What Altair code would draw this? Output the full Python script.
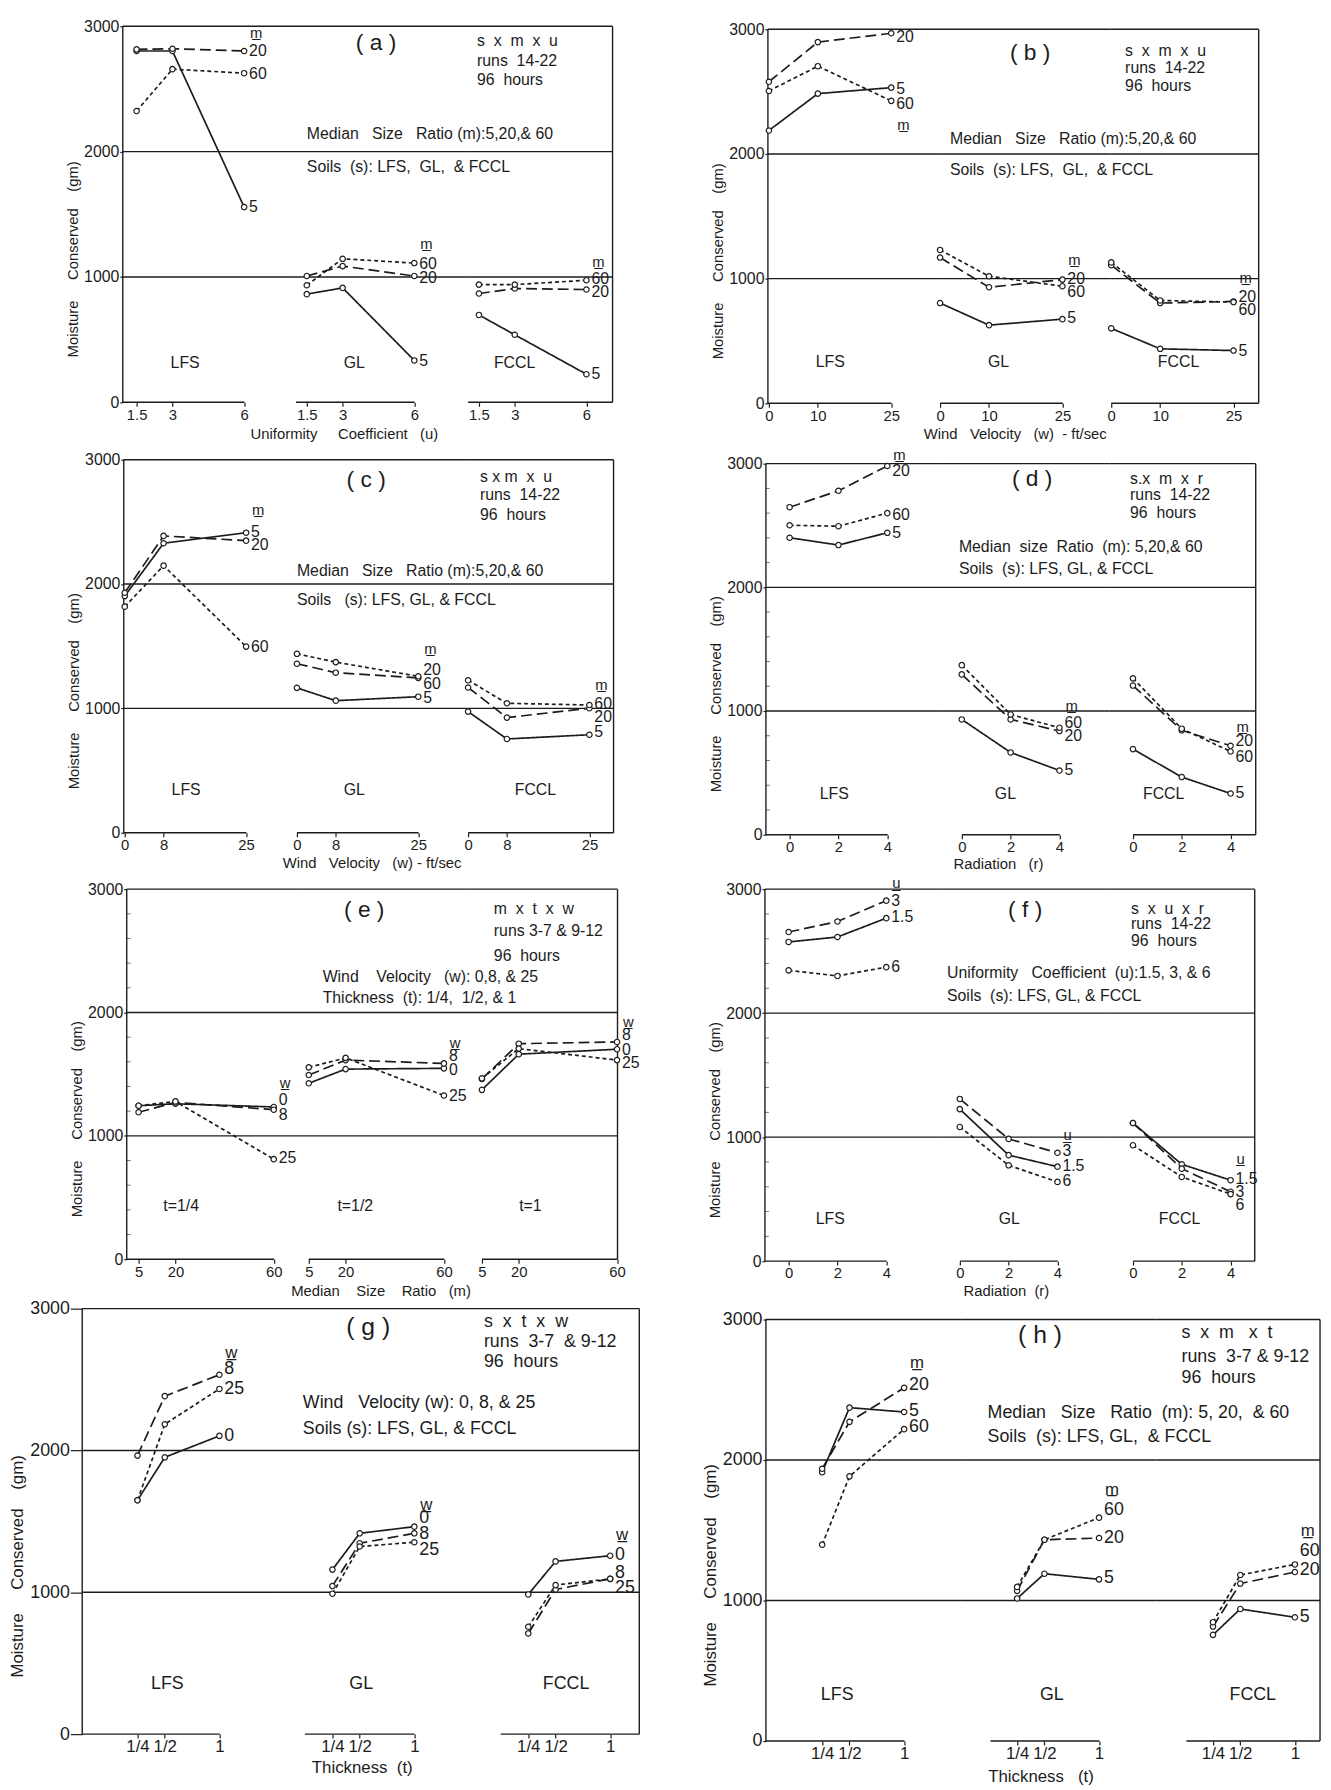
import altair as alt
import pandas as pd

FONT = "Liberation Sans"
INK = "#1c1c1c"
NB = "\u00a0"
UL = "\u0332"

# ---------------- x categories / tick labels ----------------
SOILS = ["LFS", "GL", "FCCL"]
THICK_GROUPS = ["t=1/4", "t=1/2", "t=1"]
U_VALS = [1.5, 3, 6]
U_LABELS = ["1.5", "3", "6"]
W10_VALS = [0, 10, 25]
W10_LABELS = ["0", "10", "25"]
W8_VALS = [0, 8, 25]
W8_LABELS = ["0", "8", "25"]
R_VALS = [0, 2, 4]
R_LABELS = ["0", "2", "4"]
M_VALS = [5, 20, 60]
M_LABELS = ["5", "20", "60"]
T_VALS = [0.25, 0.5, 1.0]
T_LABELS = ["1/4", "1/2", "1"]
Y_MAJOR = [0, 1000, 2000, 3000]
MINOR_Y = [200, 400, 600, 800, 1200, 1400, 1600, 1800, 2200, 2400, 2600, 2800]

# ---------------- series values (gm) ----------------
A_LFS = {"5": [2803, 2803, 1558], "20": [2816, 2821, 2803], "60": [2324, 2658, 2626]}
A_GL = {"5": [863, 913, 334], "20": [1008, 1087, 1008], "60": [934, 1145, 1111]}
A_FCCL = {"5": [697, 539, 224], "20": [868, 908, 900], "60": [939, 939, 974]}

B_LFS = {"5": [2188, 2484, 2532], "20": [2579, 2897, 2968], "60": [2505, 2704, 2426]}
B_GL = {"5": [804, 627, 675], "20": [1169, 931, 992], "60": [1230, 1019, 939]}
B_FCCL = {"5": [601, 437, 423], "20": [1108, 804, 817], "60": [1130, 825, 812]}

C_LFS = {"5": [1903, 2328, 2413], "20": [1930, 2387, 2349], "60": [1818, 2148, 1497]}
C_GL = {"5": [1165, 1062, 1094], "20": [1359, 1287, 1245], "60": [1439, 1372, 1258]}
C_FCCL = {"5": [974, 754, 788], "20": [1168, 926, 1001], "60": [1226, 1041, 1027]}

D_LFS = {"5": [2401, 2342, 2441], "20": [2648, 2781, 2981], "60": [2502, 2494, 2600]}
D_GL = {"5": [932, 665, 519], "20": [1296, 932, 838], "60": [1371, 972, 865]}
D_FCCL = {"5": [692, 466, 333], "20": [1206, 844, 719], "60": [1264, 857, 673]}

E_T14 = {"0": [1244, 1260, 1234], "8": [1191, 1271, 1212], "25": [1244, 1279, 811]}
E_T12 = {"0": [1426, 1541, 1547], "8": [1493, 1614, 1587], "25": [1555, 1632, 1327]}
E_T1 = {"0": [1373, 1662, 1702], "8": [1461, 1747, 1761], "25": [1466, 1707, 1614]}

F_LFS = {"1.5": [2574, 2614, 2766], "3": [2654, 2739, 2907], "6": [2345, 2300, 2371]}
F_GL = {"1.5": [1226, 855, 762], "3": [1308, 986, 874], "6": [1082, 773, 639]}
F_FCCL = {"1.5": [1114, 781, 653], "3": [1114, 746, 560], "6": [935, 679, 541]}

G_LFS = {"0": [1649, 1952, 2103], "8": [1964, 2383, 2534], "25": [1649, 2185, 2434]}
G_GL = {"0": [1160, 1416, 1463], "8": [1044, 1346, 1416], "25": [990, 1323, 1353]}
G_FCCL = {"0": [985, 1218, 1258], "8": [710, 1020, 1095], "25": [757, 1051, 1095]}

H_LFS = {"5": [1914, 2373, 2342], "20": [1938, 2272, 2514], "60": [1398, 1884, 2220]}
H_GL = {"5": [1015, 1191, 1151], "20": [1069, 1433, 1445], "60": [1097, 1433, 1590]}
H_FCCL = {"5": [756, 940, 881], "20": [815, 1121, 1203], "60": [846, 1182, 1257]}

# ---------------- end-label placement (gm) ----------------
A_LAB = [{"hdr": 2947, "20": 2803, "60": 2618, "5": 1558},
         {"hdr": 1263, "60": 1105, "20": 992, "5": 329},
         {"hdr": 1118, "60": 987, "20": 876, "5": 224}]
B_LAB = [{"20": 2934, "5": 2524, "60": 2399, "hdr": 2235},
         {"hdr": 1151, "20": 997, "60": 892, "5": 680},
         {"hdr": 1003, "20": 852, "60": 746, "5": 423}]
C_LAB = [{"hdr": 2594, "5": 2421, "20": 2315, "60": 1497},
         {"hdr": 1479, "20": 1306, "60": 1192, "5": 1086},
         {"hdr": 1187, "60": 1033, "20": 934, "5": 810}]
D_LAB = [{"hdr": 3069, "20": 2941, "60": 2587, "5": 2435},
         {"hdr": 1038, "60": 905, "20": 799, "5": 519},
         {"hdr": 870, "20": 759, "60": 631, "5": 333}]
E_LAB = [{"hdr": 1426, "0": 1292, "8": 1172, "25": 816},
         {"hdr": 1753, "8": 1648, "0": 1533, "25": 1319},
         {"hdr": 1921, "8": 1814, "0": 1694, "25": 1592}]
F_LAB = [{"hdr": 3045, "3": 2907, "1.5": 2774, "6": 2371},
         {"hdr": 1013, "3": 887, "1.5": 767, "6": 647},
         {"hdr": 826, "1.5": 666, "3": 560, "6": 453}]
G_LAB = [{"hdr": 2686, "8": 2574, "25": 2430, "0": 2103},
         {"hdr": 1614, "0": 1521, "8": 1409, "25": 1300},
         {"hdr": 1405, "0": 1265, "8": 1137, "25": 1032}]
H_LAB = [{"hdr": 2690, "20": 2532, "5": 2349, "60": 2236},
         {"hdr": 1790, "60": 1644, "20": 1445, "5": 1163},
         {"hdr": 1496, "60": 1351, "20": 1214, "5": 886}]

YTITLE = "Moisture" + NB * 5 + "Conserved" + NB * 4 + "(gm)"


def sp(s):
    return s.replace("  ", NB + NB)


PANELS = [
    dict(key="a", x=118, top=15, H=380, widths=[172, 174, 149], pad=14, span=109, bl=3,
         xv=U_VALS, xl=U_LABELS, groups=SOILS, data=[A_LFS, A_GL, A_FCCL], lab=A_LAB,
         series=["5", "20", "60"], hdr="m", minor=False, ytick=3, fs=15,
         title=("(" + NB + "a" + NB + ")", 256, 17),
         info=(358, [15, 35, 54], ["s  x  m  x  u", "runs  14-22", "96  hours"]),
         desc=(186, [109, 142], ["Median   Size   Ratio (m):5,20,& 60", "Soils  (s): LFS,  GL,  & FCCL"]),
         gpos=[(63, 340), (234, 340), (396, 340)],
         xtitle=("Uniformity     Coefficient   (u)", 224, 412)),
    dict(key="b", x=770, top=18, H=378, widths=[173, 173, 150], pad=1, span=124, bl=1,
         xv=W10_VALS, xl=W10_LABELS, groups=SOILS, data=[B_LFS, B_GL, B_FCCL], lab=B_LAB,
         series=["5", "20", "60"], hdr="m", minor=False, ytick=3, fs=15,
         title=("(" + NB + "b" + NB + ")", 265, 24),
         info=(361, [22, 39, 57], ["s  x  m  x  u", "runs  14-22", "96  hours"]),
         desc=(184, [111, 142], ["Median   Size   Ratio (m):5,20,& 60", "Soils  (s): LFS,  GL,  & FCCL"]),
         gpos=[(63, 336), (233, 336), (415, 336)],
         xtitle=("Wind   Velocity   (w)  - ft/sec", 250, 409)),
    dict(key="c", x=119, top=453, H=377, widths=[174, 173, 148], pad=1, span=123, bl=1,
         xv=W8_VALS, xl=W8_LABELS, groups=SOILS, data=[C_LFS, C_GL, C_FCCL], lab=C_LAB,
         series=["5", "20", "60"], hdr="m", minor=False, ytick=3, fs=15,
         title=("(" + NB + "c" + NB + ")", 245, 21),
         info=(360, [18, 36, 56], ["s x m  x  u", "runs  14-22", "96  hours"]),
         desc=(175, [113, 142], ["Median   Size   Ratio (m):5,20,& 60", "Soils   (s): LFS, GL, & FCCL"]),
         gpos=[(63, 334), (233, 334), (416, 334)],
         xtitle=("Wind   Velocity   (w) - ft/sec", 251, 408)),
    dict(key="d", x=768, top=457, H=375, widths=[174, 173, 148], pad=24, span=99, bl=24,
         xv=R_VALS, xl=R_LABELS, groups=SOILS, data=[D_LFS, D_GL, D_FCCL], lab=D_LAB,
         series=["5", "20", "60"], hdr="m", minor=True, ytick=3, fs=15,
         title=("(" + NB + "d" + NB + ")", 269, 16),
         info=(368, [16, 32, 50], ["s.x  m  x  r", "runs  14-22", "96  hours"]),
         desc=(195, [84, 107], ["Median  size  Ratio  (m): 5,20,& 60", "Soils  (s): LFS, GL, & FCCL"]),
         gpos=[(69, 334), (242, 334), (402, 334)],
         xtitle=("Radiation   (r)", 235, 405)),
    dict(key="e", x=122, top=887, H=374, widths=[172, 175, 149], pad=12, span=137, bl=12,
         xv=M_VALS, xl=M_LABELS, groups=THICK_GROUPS, data=[E_T14, E_T12, E_T1], lab=E_LAB,
         series=["0", "8", "25"], hdr="w", minor=True, ytick=3, fs=15,
         title=("(" + NB + "e" + NB + ")", 240, 21),
         info=(371, [20, 42, 68], ["m  x  t  x  w", "runs 3-7 & 9-12", "96  hours"]),
         desc=(198, [89, 110], ["Wind    Velocity   (w): 0,8, & 25", "Thickness  (t): 1/4,  1/2, & 1"]),
         gpos=[(55, 320), (231, 320), (408, 320)],
         xtitle=("Median    Size    Ratio   (m)", 257, 406)),
    dict(key="f", x=767, top=887, H=376, widths=[173, 175, 147], pad=24, span=99, bl=24,
         xv=R_VALS, xl=R_LABELS, groups=SOILS, data=[F_LFS, F_GL, F_FCCL], lab=F_LAB,
         series=["1.5", "3", "6"], hdr="u", minor=True, ytick=3, fs=15,
         title=("(" + NB + "f" + NB + ")", 263, 21),
         info=(370, [20, 35, 52], ["s  x  u  x  r", "runs  14-22", "96  hours"]),
         desc=(184, [85, 108], ["Uniformity   Coefficient  (u):1.5, 3, & 6", "Soils  (s): LFS, GL, & FCCL"]),
         gpos=[(66, 333), (247, 333), (419, 333)],
         xtitle=("Radiation  (r)", 244, 406)),
    dict(key="g", x=77, top=1308, H=430, widths=[197, 198, 168], pad=56, span=83, bl=28,
         xv=T_VALS, xl=T_LABELS, groups=SOILS, data=[G_LFS, G_GL, G_FCCL], lab=G_LAB,
         series=["0", "8", "25"], hdr="w", minor=False, ytick=12, fs=17,
         title=("(" + NB + "g" + NB + ")", 289, 19),
         info=(406, [14, 34, 54], ["s  x  t  x  w", "runs  3-7  & 9-12", "96  hours"]),
         desc=(223, [95, 122], ["Wind   Velocity (w): 0, 8, & 25", "Soils (s): LFS, GL, & FCCL"]),
         gpos=[(86, 379), (282, 379), (489, 379)],
         xtitle=("Thickness  (t)", 283, 464)),
    dict(key="h", x=768, top=1319, H=426, widths=[197, 198, 165], pad=57, span=83, bl=30,
         xv=T_VALS, xl=T_LABELS, groups=SOILS, data=[H_LFS, H_GL, H_FCCL], lab=H_LAB,
         series=["5", "20", "60"], hdr="m", minor=False, ytick=3, fs=17,
         title=("(" + NB + "h" + NB + ")", 277, 16),
         info=(420, [14, 38, 59], ["s  x  m   x  t", "runs  3-7 & 9-12", "96  hours"]),
         desc=(224, [94, 119], ["Median   Size   Ratio  (m): 5, 20,  & 60", "Soils  (s): LFS, GL,  & FCCL"]),
         gpos=[(72, 380), (289, 380), (492, 380)],
         xtitle=("Thickness   (t)", 278, 462)),
]

STYLES = ["solid", "long", "short"]
ONE = pd.DataFrame({"k": [0]})
ROW_TOPS = [8, 440, 871, 1301]
PAGE_X = 8


def label_expr(vals, labels):
    parts = []
    for v, l in zip(vals, labels):
        parts.append("datum.value == %s ? '%s'" % (repr(float(v)), l))
    return " : ".join(parts) + " : ''"


def text_layer(txt, px, py, size, align="left"):
    return alt.Chart(ONE).mark_text(
        text=txt, align=align, baseline="middle", font=FONT, fontSize=size, color=INK
    ).encode(x=alt.value(px), y=alt.value(py))


def rule_px(x, x2, y, y2):
    return alt.Chart(ONE).mark_rule(color=INK, strokeWidth=1.4).encode(
        x=alt.value(x), x2=alt.value(x2), y=alt.value(y), y2=alt.value(y2))


def sub_chart(p, gi, off):
    w = p["widths"][gi]
    H = p["H"]
    xv = p["xv"]
    lo, hi = xv[0], xv[-1]
    s = p["span"] / (hi - lo)
    dom = [lo - p["pad"] / s, lo + (w - p["pad"] + 0.5) / s]
    ymax = 3000.0 * (H + off) / H
    X = alt.X("x:Q", scale=alt.Scale(domain=dom, nice=False, zero=False),
              axis=alt.Axis(values=xv, labelExpr=label_expr(xv, p["xl"]), domain=False,
                            ticks=True, tickSize=4, tickWidth=1.2, tickColor=INK,
                            labelFont=FONT, labelFontSize=p["fs"], labelColor=INK,
                            labelPadding=1, grid=False, title=None, labelOverlap=False,
                            labelFlush=False))
    if gi == 0:
        yaxis = alt.Axis(values=Y_MAJOR, format="d", title=YTITLE, titleFont=FONT,
                         titleFontSize=p["fs"], titleFontWeight="normal", titleColor=INK,
                         titlePadding=3, titleY=off + H / 2 + 45,
                         labelFont=FONT, labelFontSize=p["fs"] + 1, labelColor=INK, labelPadding=1,
                         tickSize=p["ytick"], tickColor=INK, tickWidth=1.2, domain=False,
                         grid=False, labelFlush=False, labelOverlap=False)
    else:
        yaxis = None
    Y = alt.Y("y:Q", scale=alt.Scale(domain=[0, ymax], nice=False, zero=False), axis=yaxis)

    series_data = p["data"][gi]
    rows = []
    for si, name in enumerate(p["series"]):
        for xval, yval in zip(xv, series_data[name]):
            rows.append({"series": name, "style": STYLES[si], "x": xval, "y": yval})
    df = pd.DataFrame(rows)

    labs = p["lab"][gi]
    lab_df = pd.DataFrame([{"x": xv[-1], "y": labs[name], "text": name} for name in p["series"]])
    hdr_df = pd.DataFrame([{"x": xv[-1], "y": labs["hdr"], "text": p["hdr"] + UL}])

    layers = []
    grid_df = pd.DataFrame({"y": [1000, 2000, 3000]})
    layers.append(alt.Chart(grid_df).mark_rule(color=INK, strokeWidth=1.4).encode(
        y=Y, x=alt.value(0), x2=alt.value(w)))
    if gi == 0:
        layers.append(rule_px(0, 0, off, off + H))
        if p["minor"]:
            layers.append(alt.Chart(pd.DataFrame({"y": MINOR_Y})).mark_rule(
                color=INK, strokeWidth=1, opacity=0.6).encode(y=Y, x=alt.value(0), x2=alt.value(4)))
    b0 = 0 if gi == 0 else p["bl"]
    b1 = w if gi == 2 else p["pad"] + p["span"]
    layers.append(rule_px(b0, b1, off + H, off + H))
    if gi == 2:
        layers.append(rule_px(w, w, off, off + H))

    layers.append(alt.Chart(df).mark_line(color=INK, strokeWidth=1.7).encode(
        x=X, y=Y, detail="series:N",
        strokeDash=alt.StrokeDash("style:N", scale=alt.Scale(
            domain=STYLES, range=[[1, 0], [11, 5], [4, 3]]), legend=None)))
    layers.append(alt.Chart(df).mark_point(shape="circle", filled=True, fill="white", stroke=INK,
                                           strokeWidth=1.2, size=30, opacity=1).encode(x=X, y=Y))
    layers.append(alt.Chart(lab_df).mark_text(align="left", baseline="middle", dx=5, font=FONT,
                                              fontSize=p["fs"] + 1, color=INK).encode(
        x=X, y=Y, text="text:N"))
    layers.append(alt.Chart(hdr_df).mark_text(align="left", baseline="middle", dx=6, font=FONT,
                                              fontSize=p["fs"], color=INK).encode(
        x=X, y=Y, text="text:N"))

    if gi == 0:
        t, tx, ty = p["title"]
        layers.append(text_layer(t, tx, off + ty, p["fs"] + 8, "center"))
        ix, iys, itexts = p["info"]
        for iy, it in zip(iys, itexts):
            layers.append(text_layer(sp(it), ix, off + iy, p["fs"] + 1))
        dx_, dys, dtexts = p["desc"]
        for dy_, dt in zip(dys, dtexts):
            layers.append(text_layer(sp(dt), dx_, off + dy_, p["fs"] + 1))
        for g, (gx, gy) in zip(p["groups"], p["gpos"]):
            layers.append(text_layer(g, gx, off + gy, p["fs"] + 1, "center"))
        xt, xx, xy = p["xtitle"]
        layers.append(text_layer(sp(xt), xx, off + xy, p["fs"], "center"))

    return alt.layer(*layers).properties(width=w, height=H + off)


def spacer(w, h):
    return alt.Chart(ONE).mark_point(opacity=0, size=1).encode(
        x=alt.value(2), y=alt.value(2)).properties(width=w, height=h)


rows = []
for r in range(4):
    pl, pr = PANELS[2 * r], PANELS[2 * r + 1]
    top = ROW_TOPS[r]
    cells = [spacer(pl["x"] - PAGE_X, 1)]
    for gi in range(3):
        cells.append(sub_chart(pl, gi, pl["top"] - top))
    cells.append(spacer(pr["x"] - pl["x"] - sum(pl["widths"]), 1))
    for gi in range(3):
        cells.append(sub_chart(pr, gi, pr["top"] - top))
    cells.append(spacer(1, (ROW_TOPS[r + 1] - top) if r < 3 else 1))
    rows.append(alt.hconcat(*cells, spacing=0, bounds="flush"))

chart = alt.vconcat(*rows, spacing=0).properties(
    padding={"left": 0, "top": 0, "right": 0, "bottom": 0},
    background="white",
).configure_view(stroke=None)

chart.save("out.html", embed_options={"renderer": "svg", "actions": False})
